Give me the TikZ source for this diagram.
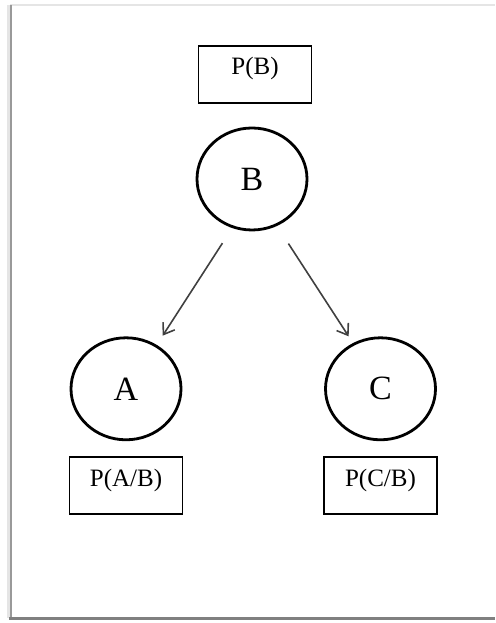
\documentclass[tikz,border=0pt]{standalone}
\usepackage{fontspec}
\setmainfont{Liberation Serif}
\usepackage{tikz}
\usetikzlibrary{positioning,arrows.meta,shapes.geometric}

\begin{document}
\begin{tikzpicture}[
    x=1pt, y=1pt,
    var/.style={ellipse, draw, line width=2.8pt, minimum width=110pt, minimum height=102pt, inner sep=0pt, font=\fontsize{34}{40}\selectfont},
    prob/.style={rectangle, draw, line width=1.8pt, minimum width=113pt, inner xsep=0pt, inner ysep=0pt, text height=29pt, text depth=28pt, font=\fontsize{25}{30}\selectfont},
    arrow/.style={-{Straight Barb[length=10pt, width=14pt, line width=1.6pt]}, line width=1.6pt, black!75}
]
    \useasboundingbox (0,0) rectangle (495,623);
    % page frame
    \draw[line width=1.5pt, black!10] (10,618) -- (495,618);
    \draw[line width=3pt, black!10] (8,618) -- (8,5);
    \draw[line width=2pt, black!40] (10.5,618) -- (10.5,5);
    \draw[line width=3.5pt, black!50] (9,4.5) -- (495,4.5);

    \node[var] (b) at (252,444) {B};
    \node[prob, above=23pt of b, xshift=3pt] (pb) {P(B)};
    \node[var, below=105pt of b, xshift=-126pt] (a) {A};
    \node[var, below=105pt of b, xshift=128.5pt] (c) {C};
    \node[prob, below=15pt of a] (pab) {P(A/B)};
    \node[prob, below=15pt of c] (pcb) {P(C/B)};

    \draw[arrow, shorten <=18pt, shorten >=11pt] (b.248) -- (a.55);
    \draw[arrow, shorten <=21pt, shorten >=8pt] (b.298) -- (c.121);
\end{tikzpicture}
\end{document}
